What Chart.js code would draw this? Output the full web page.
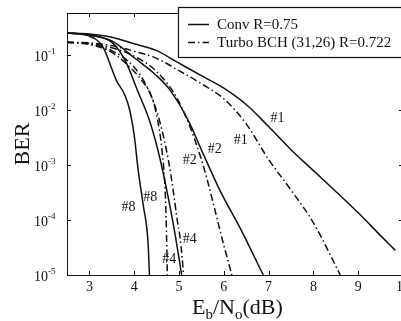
<!DOCTYPE html>
<html>
<head>
<meta charset="utf-8">
<script src="https://cdn.jsdelivr.net/npm/chart.js@4"></script>
<style>
  body { margin: 0; background: #fff; }
  #wrap { width: 401px; height: 321px; overflow: hidden; }
</style>
</head>
<body>
<div id="wrap"><canvas id="c" width="410" height="321"></canvas></div>
<script>
// Eb/No (dB) and BER
const conv1X = [2.5, 3, 3.5, 4, 4.5, 5, 5.5, 6, 6.5, 7, 7.5, 8, 8.5, 9, 9.5, 9.83];
const conv1Y = [0.25, 0.24, 0.21, 0.16, 0.12, 0.071, 0.042, 0.025, 0.0126, 0.005, 0.0019, 7.9e-4, 3.3e-4, 1.35e-4, 5.2e-5, 2.8e-5];
const conv2X = [2.5, 3, 3.5, 4, 4.5, 4.8, 5.2, 5.53, 5.91, 6.4, 6.88];
const conv2Y = [0.25, 0.23, 0.18, 0.089, 0.042, 0.023, 6.6e-3, 1.66e-3, 3.5e-4, 6.3e-5, 1e-5];
const conv4X = [2.5, 3, 3.5, 3.8, 4.07, 4.36, 4.58, 4.75, 4.9, 5.06];
const conv4Y = [0.25, 0.23, 0.17, 0.079, 0.023, 5.8e-3, 1.26e-3, 2.8e-4, 6.3e-5, 1e-5];
const conv8X = [2.5, 3, 3.3, 3.6, 3.8, 3.9, 4, 4.09, 4.2, 4.31, 4.34];
const conv8Y = [0.25, 0.22, 0.14, 0.035, 0.018, 0.01, 3.5e-3, 7.9e-4, 1.9e-4, 3.8e-5, 1e-5];

const turbo1X = [2.5, 3, 3.5, 4, 4.5, 5, 5.5, 6, 6.5, 7, 7.5, 8, 8.6];
const turbo1Y = [0.17, 0.166, 0.148, 0.117, 0.087, 0.052, 0.030, 0.016, 5.6e-3, 1.26e-3, 3.5e-4, 8.9e-5, 1e-5];
const turbo2X = [2.5, 3, 3.5, 4, 4.5, 5, 5.5, 6, 6.18];
const turbo2Y = [0.17, 0.162, 0.135, 0.095, 0.05, 0.014, 1.26e-3, 3.5e-5, 1e-5];
const turbo4X = [2.5, 3, 3.5, 4, 4.3, 4.55, 4.76, 4.87, 4.96, 5.02, 5.07, 5.1];
const turbo4Y = [0.17, 0.16, 0.12, 0.06, 0.025, 7.1e-3, 1.26e-3, 3.5e-4, 1e-4, 5e-5, 2.1e-5, 1e-5];
const turbo8X = [2.5, 3, 3.5, 4, 4.2, 4.36, 4.51, 4.62, 4.69, 4.72, 4.74];
const turbo8Y = [0.17, 0.155, 0.112, 0.05, 0.032, 0.02, 7.4e-3, 1.86e-3, 3.5e-4, 6.3e-5, 1e-5];

const xTicks = [3, 4, 5, 6, 7, 8, 9, 10];
const yTicks = [1e-5, 1e-4, 1e-3, 1e-2, 1e-1];
const yExp = [-5, -4, -3, -2, -1];

// curve tags
const tagText = ['#1', '#1', '#2', '#2', '#8', '#8', '#4', '#4'];
const tagX = [7.2, 6.38, 5.8, 5.24, 3.87, 4.36, 5.24, 4.78];
const tagY = [7.1e-3, 2.8e-3, 1.9e-3, 1.2e-3, 1.7e-4, 2.6e-4, 4.5e-5, 1.95e-5];

const legendLabels = ['Conv R=0.75', 'Turbo BCH (31,26) R=0.722'];

const INK = '#111';
const DASH = [7, 3, 1.5, 3];
const SERIF = '"Liberation Serif", "Times New Roman", serif';

function pts(xs, ys) { return xs.map((x, i) => ({ x: x, y: ys[i] })); }
function line(xs, ys, dashed) {
  return {
    data: pts(xs, ys),
    borderColor: INK,
    borderWidth: 1.5,
    borderDash: dashed ? DASH : [],
    pointRadius: 0,
    cubicInterpolationMode: 'monotone',
    fill: false
  };
}

const deco = {
  id: 'deco',
  afterDraw(chart) {
    const ctx = chart.ctx;
    const a = chart.chartArea;
    const xs = chart.scales.x, ys = chart.scales.y;
    ctx.save();
    ctx.strokeStyle = INK;
    ctx.fillStyle = INK;
    ctx.lineWidth = 1;
    ctx.strokeRect(a.left + 0.5, a.top + 0.5, a.right - a.left, a.bottom - a.top);

    // inward ticks
    ctx.beginPath();
    xTicks.forEach(v => {
      const p = Math.round(xs.getPixelForValue(v)) + 0.5;
      ctx.moveTo(p, a.bottom); ctx.lineTo(p, a.bottom - 4);
      ctx.moveTo(p, a.top); ctx.lineTo(p, a.top + 4);
    });
    yTicks.forEach(v => {
      const p = Math.round(ys.getPixelForValue(v)) + 0.5;
      ctx.moveTo(a.left, p); ctx.lineTo(a.left + 4, p);
      ctx.moveTo(a.right, p); ctx.lineTo(a.right - 4, p);
    });
    ctx.stroke();

    // x tick labels
    ctx.font = '14px ' + SERIF;
    ctx.textAlign = 'center';
    ctx.textBaseline = 'alphabetic';
    xTicks.forEach(v => {
      ctx.fillText(String(v), xs.getPixelForValue(v), a.bottom + 16);
    });

    // y tick labels 10^k
    yTicks.forEach((v, i) => {
      const p = ys.getPixelForValue(v);
      ctx.font = '14px ' + SERIF;
      ctx.textAlign = 'right';
      ctx.fillText('10', 48, p + 6);
      ctx.font = '9px ' + SERIF;
      ctx.textAlign = 'left';
      ctx.fillText(String(yExp[i]), 48, p - 1);
    });

    // axis titles
    ctx.font = '22px ' + SERIF;
    ctx.textAlign = 'center';
    ctx.save();
    ctx.translate(29, (a.top + a.bottom) / 2);
    ctx.rotate(-Math.PI / 2);
    ctx.fillText('BER', 0, 0);
    ctx.restore();

    let x = 192;
    const base = 314;
    const parts = [['E', 0], ['b', 1], ['/N', 0], ['o', 1], ['(dB)', 0]];
    ctx.textAlign = 'left';
    parts.forEach(([t, sub]) => {
      ctx.font = (sub ? '15px ' : '22px ') + SERIF;
      ctx.fillText(t, x, base + (sub ? 5 : 0));
      x += ctx.measureText(t).width;
    });

    // curve tags
    ctx.font = '14px ' + SERIF;
    ctx.textAlign = 'center';
    ctx.textBaseline = 'middle';
    tagText.forEach((t, i) => {
      ctx.fillText(t, xs.getPixelForValue(tagX[i]), ys.getPixelForValue(tagY[i]));
    });

    // legend box
    ctx.fillStyle = '#fff';
    ctx.fillRect(178, 7, 230, 50);
    ctx.strokeStyle = INK;
    ctx.lineWidth = 1.2;
    ctx.strokeRect(178.5, 7.5, 230, 50);
    ctx.lineWidth = 1.5;
    ctx.beginPath(); ctx.moveTo(188, 24.5); ctx.lineTo(209, 24.5); ctx.stroke();
    ctx.setLineDash(DASH);
    ctx.beginPath(); ctx.moveTo(188, 42.5); ctx.lineTo(209, 42.5); ctx.stroke();
    ctx.setLineDash([]);
    ctx.fillStyle = INK;
    ctx.font = '15px ' + SERIF;
    ctx.textAlign = 'left';
    ctx.textBaseline = 'middle';
    ctx.fillText(legendLabels[0], 217, 25);
    ctx.fillText(legendLabels[1], 217, 43);
    ctx.restore();
  }
};

new Chart(document.getElementById('c'), {
  type: 'line',
  data: {
    datasets: [
      line(conv1X, conv1Y, false),
      line(conv2X, conv2Y, false),
      line(conv4X, conv4Y, false),
      line(conv8X, conv8Y, false),
      line(turbo1X, turbo1Y, true),
      line(turbo2X, turbo2Y, true),
      line(turbo4X, turbo4Y, true),
      line(turbo8X, turbo8Y, true)
    ]
  },
  options: {
    responsive: false,
    animation: false,
    devicePixelRatio: 1,
    layout: { padding: { top: 13, right: 7, left: 0, bottom: 0 } },
    plugins: { legend: { display: false }, tooltip: { enabled: false } },
    scales: {
      x: {
        type: 'linear', min: 2.5, max: 10,
        grid: { display: false }, border: { display: false },
        ticks: { display: false },
        afterBuildTicks: s => { s.ticks = xTicks.map(v => ({ value: v })); },
        afterFit: s => { s.height = 46; }
      },
      y: {
        type: 'logarithmic', min: 1e-5, max: 0.58,
        grid: { display: false }, border: { display: false },
        ticks: { display: false },
        afterBuildTicks: s => { s.ticks = yTicks.map(v => ({ value: v })); },
        afterFit: s => { s.width = 67; }
      }
    }
  },
  plugins: [deco]
});
</script>
</body>
</html>
